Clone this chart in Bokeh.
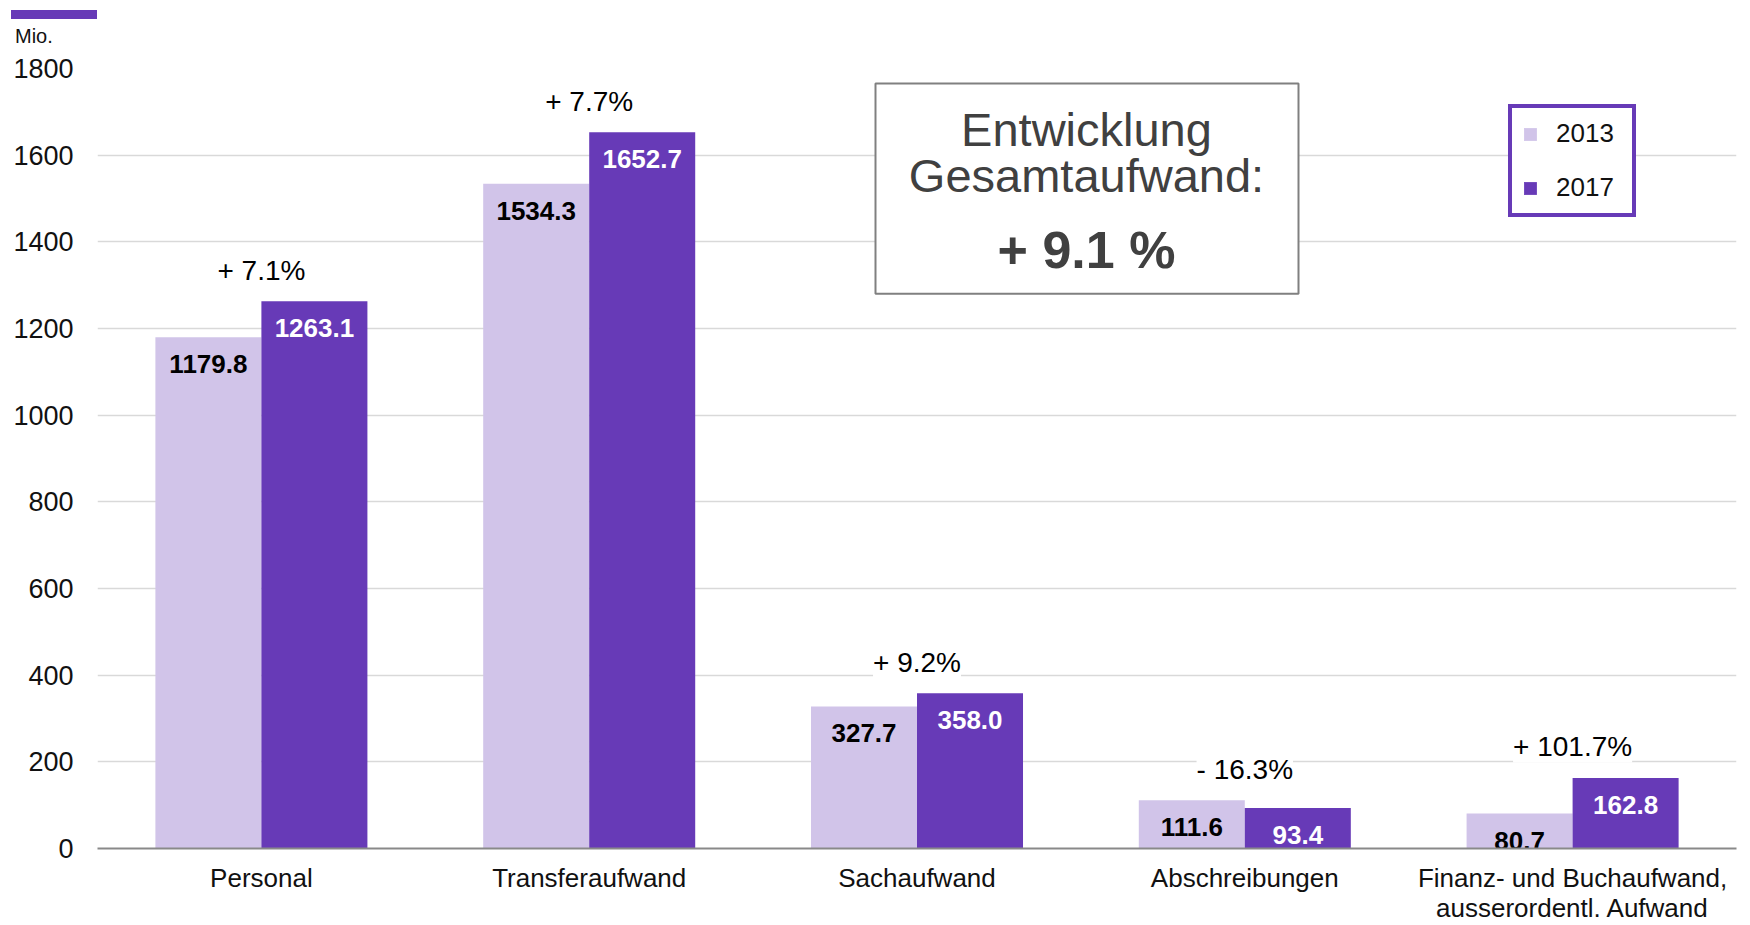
from bokeh.plotting import figure
from bokeh.layouts import column
from bokeh.models import (FactorRange, Range1d, Label, BoxAnnotation, Legend, LegendItem,
                          ColumnDataSource, FixedTicker, Div)
from bokeh.transform import dodge
from bokeh.core.properties import value
from bokeh.embed import file_html
from bokeh.resources import INLINE

# ---------------- data ----------------
categories = ["Personal", "Transferaufwand", "Sachaufwand", "Abschreibungen",
              "Finanz- und Buchaufwand,\nausserordentl. Aufwand"]
values_2013 = [1179.8, 1534.3, 327.7, 111.6, 80.7]
values_2017 = [1263.1, 1652.7, 358.0, 93.4, 162.8]
changes = ["+ 7.1%", "+ 7.7%", "+ 9.2%", "- 16.3%", "+ 101.7%"]
series_names = ["2013", "2017"]
y_ticks = [0, 200, 400, 600, 800, 1000, 1200, 1400, 1600, 1800]
unit_label = "Mio."
total_lines = ["Entwicklung", "Gesamtaufwand:"]
total_change = "+ 9.1 %"

# ---------------- style ----------------
LIGHT = "#D1C4E9"
DARK = "#673AB7"
FONT = value("Liberation Sans")
FONT_NAME = "Liberation Sans"
HEADER_H = 48

# frame geometry (page px) used to place decorations
FRAME_L, FRAME_B = 97, 851
PX_PER_CAT = 1639 / 5
PX_PER_UNIT = 783 / 1800


def fx(px):
    return (px - FRAME_L) / PX_PER_CAT


def fy(py):
    return (FRAME_B - py) / PX_PER_UNIT


src = ColumnDataSource(dict(
    cat=categories,
    v13=values_2013,
    v17=values_2017,
    maxv=[max(a, b) for a, b in zip(values_2013, values_2017)],
    change=changes,
    lab13=[f"{v:.1f}" for v in values_2013],
    lab17=[f"{v:.1f}" for v in values_2017],
))

p = figure(x_range=FactorRange(*categories, range_padding=0),
           y_range=Range1d(0, 1800),
           width=1750, height=925 - HEADER_H, output_backend="svg", toolbar_location=None,
           min_border_left=97, min_border_right=14, min_border_top=68 - HEADER_H,
           min_border_bottom=74)
p.outline_line_color = None
p.background_fill_color = "white"
p.border_fill_color = "white"

p.xgrid.grid_line_color = None
p.ygrid.grid_line_color = "#D9D9D9"
p.ygrid.grid_line_width = 1.3

p.yaxis.ticker = FixedTicker(ticks=y_ticks)
p.yaxis.axis_line_color = None
p.yaxis.major_tick_line_color = None
p.yaxis.minor_tick_line_color = None
p.yaxis.major_tick_out = 0
p.yaxis.major_label_standoff = 24
p.yaxis.major_label_text_font = FONT_NAME
p.yaxis.major_label_text_font_size = "27px"
p.yaxis.major_label_text_color = "#111111"

p.xaxis.axis_line_color = "#898989"
p.xaxis.axis_line_width = 2
p.xaxis.major_tick_line_color = None
p.xaxis.minor_tick_line_color = None
p.xaxis.major_tick_out = 0
p.xaxis.major_label_standoff = 14
p.xaxis.major_label_text_font = FONT_NAME
p.xaxis.major_label_text_font_size = "26px"
p.xaxis.major_label_text_line_height = 1.0
p.xaxis.major_label_text_color = "#111111"

bar_w = 0.3234
r13 = p.vbar(x=dodge("cat", -bar_w / 2, range=p.x_range), top="v13", width=bar_w,
             fill_color=LIGHT, line_color=None, source=src)
r17 = p.vbar(x=dodge("cat", bar_w / 2, range=p.x_range), top="v17", width=bar_w,
             fill_color=DARK, line_color=None, source=src)

p.text(x=dodge("cat", -bar_w / 2, range=p.x_range), y="v13", text="lab13",
       text_align="center", text_baseline="middle", y_offset=27,
       text_font=FONT, text_font_style="bold", text_font_size="26px",
       text_color="black", source=src)
p.text(x=dodge("cat", bar_w / 2, range=p.x_range), y="v17", text="lab17",
       text_align="center", text_baseline="middle", y_offset=27,
       text_font=FONT, text_font_style="bold", text_font_size="26px",
       text_color="white", source=src)

p.text(x="cat", y="maxv", text="change", text_align="center", text_baseline="middle",
       y_offset=-31, text_font=FONT, text_font_size="28px", text_color="black",
       background_fill_color="white", source=src)

legend = Legend(items=[LegendItem(label=series_names[0], renderers=[r13]),
                       LegendItem(label=series_names[1], renderers=[r17])],
                location=(1411, 631), border_line_color=DARK, border_line_width=4,
                border_line_alpha=1, padding=10, spacing=23, glyph_width=16, glyph_height=16,
                label_height=30, label_standoff=18, label_width=66,
                label_text_font=FONT_NAME,
                label_text_font_size="26px", label_text_color="#111111",
                background_fill_color="white", background_fill_alpha=1, margin=0)
p.add_layout(legend)

# total-change box
p.add_layout(BoxAnnotation(left=fx(875), right=fx(1298), top=fy(83), bottom=fy(294),
                           fill_color="white", fill_alpha=1, line_color="#808080",
                           line_width=2, line_alpha=1))
p.add_layout(Label(x=fx(1086), y=fy(129), text=total_lines[0], text_align="center",
                   text_baseline="middle", text_font=FONT_NAME,
                   text_font_size="47px", text_color="#404040"))
p.add_layout(Label(x=fx(1086), y=fy(175), text=total_lines[1], text_align="center",
                   text_baseline="middle", text_font=FONT_NAME,
                   text_font_size="47px", text_color="#404040"))
p.add_layout(Label(x=fx(1086), y=fy(250), text=total_change, text_align="center",
                   text_baseline="middle", text_font=FONT_NAME, text_font_style="bold",
                   text_font_size="52px", text_color="#404040"))

# header: accent bar and unit label above the plot
header = Div(
    text=(f'<div style="position:relative;width:1750px;height:{HEADER_H}px;margin:0;padding:0;">'
          f'<div style="position:absolute;left:11px;top:10px;width:86px;height:9px;'
          f'background:{DARK};"></div>'
          f'<div style="position:absolute;left:15px;top:26px;font-family:\'{FONT_NAME}\';'
          f'font-size:20px;line-height:20px;color:#111111;">{unit_label}</div></div>'),
    width=1750, height=HEADER_H, margin=0)

layout = column(header, p, spacing=0)

open("out.html", "w").write(file_html(layout, INLINE))
